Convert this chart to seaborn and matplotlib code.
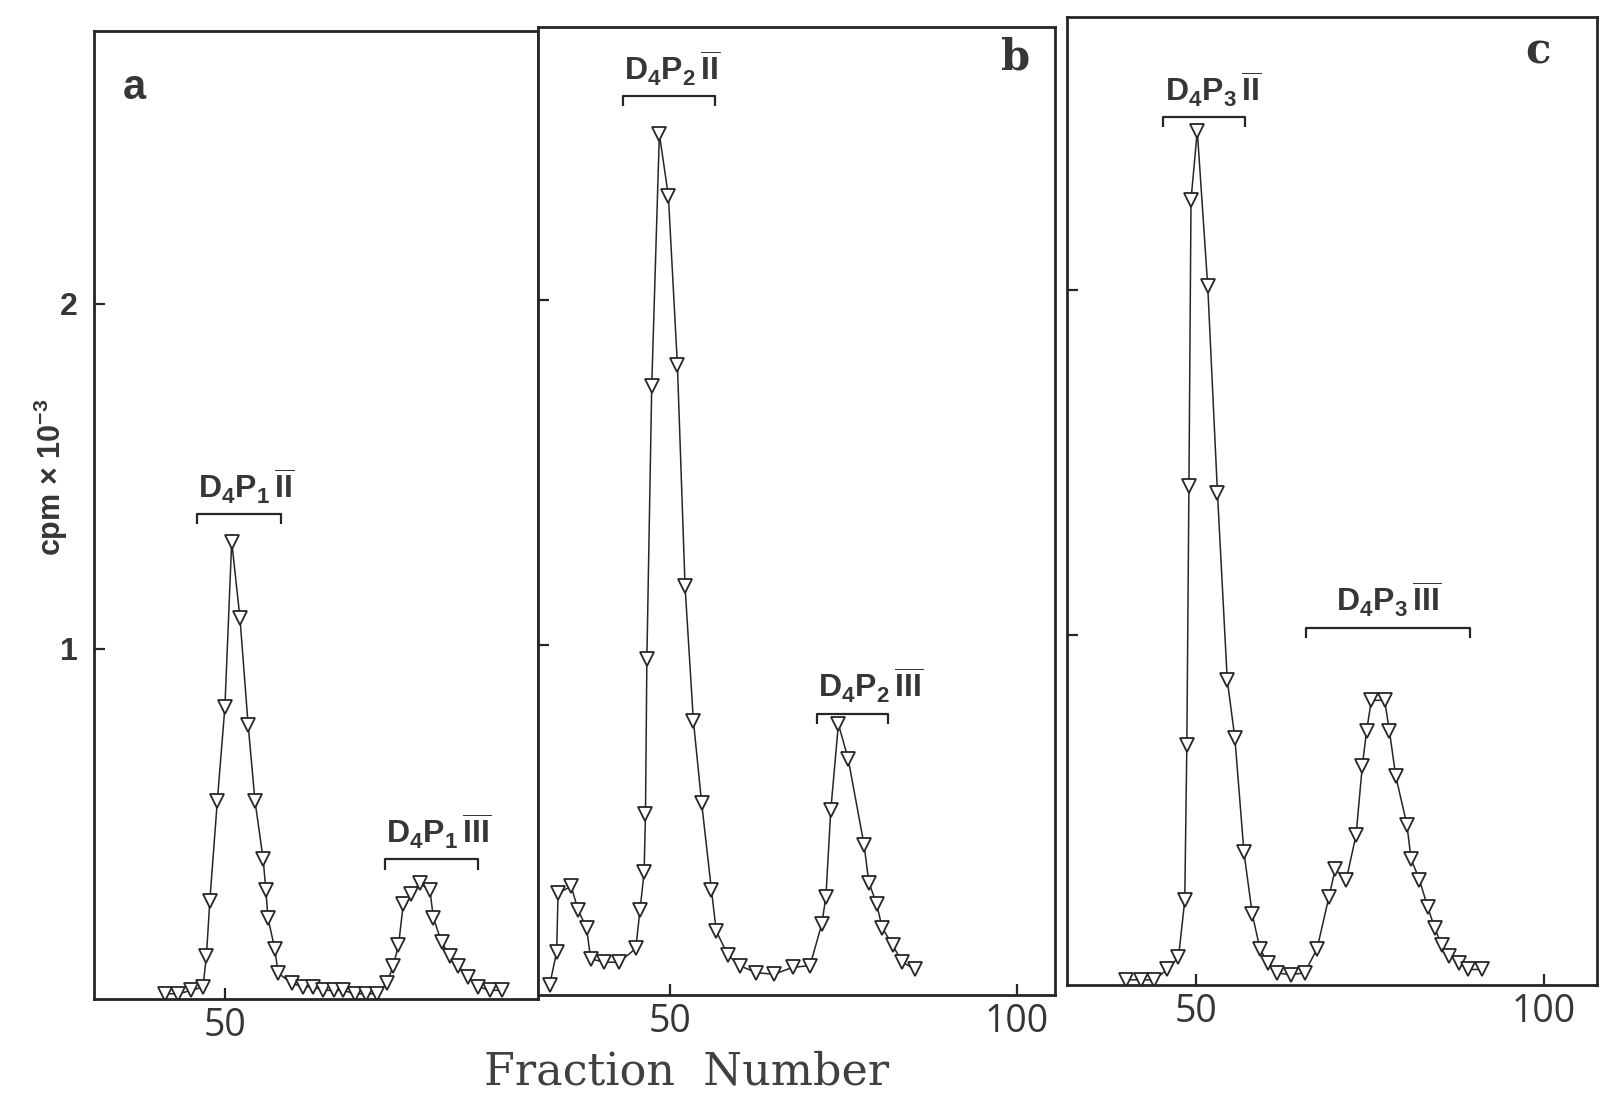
import matplotlib
matplotlib.use("Agg")
import matplotlib.pyplot as plt
import seaborn as sns


# Fraction numbers and counts (cpm x 10^-3)
frac_a = [41.2, 43.2, 45.1, 46.8, 47.3, 47.8, 48.9, 50.0, 51.0, 52.2,
          53.4, 54.4, 55.6, 56.0, 56.3, 57.3, 57.8, 59.8, 61.5, 62.9,
          64.4, 65.9, 67.3, 69.0, 70.7, 72.2, 73.7, 74.6, 75.4, 76.1,
          77.3, 78.5, 80.0, 80.5, 81.7, 82.9, 84.1, 85.6, 87.1, 88.8, 90.5]
cpm_a = [0.00, 0.00, 0.01, 0.02, 0.11, 0.27, 0.56, 0.83, 1.31, 1.09,
         0.78, 0.56, 0.39, 0.30, 0.22, 0.13, 0.06, 0.03, 0.02, 0.02,
         0.01, 0.01, 0.01, 0.00, 0.00, 0.00, 0.03, 0.08, 0.14, 0.26,
         0.29, 0.32, 0.30, 0.22, 0.15, 0.11, 0.08, 0.05, 0.02, 0.01, 0.01]

frac_b = [32.7, 33.7, 33.9, 35.8, 36.8, 38.0, 38.6, 40.5, 42.7, 45.1,
          45.7, 46.3, 46.5, 46.7, 47.4, 48.5, 49.8, 51.1, 52.2, 53.4,
          54.6, 56.0, 56.7, 58.4, 60.1, 62.4, 65.0, 67.7, 70.2, 71.9,
          72.5, 73.2, 74.3, 75.7, 78.0, 78.7, 79.8, 80.6, 82.1, 83.5, 85.3]
cpm_b = [0.015, 0.11, 0.28, 0.30, 0.23, 0.18, 0.09, 0.08, 0.08, 0.12,
         0.23, 0.34, 0.51, 0.96, 1.75, 2.48, 2.30, 1.81, 1.17, 0.78,
         0.54, 0.29, 0.17, 0.10, 0.07, 0.05, 0.045, 0.065, 0.07, 0.19,
         0.27, 0.52, 0.77, 0.67, 0.42, 0.31, 0.25, 0.18, 0.13, 0.08, 0.06]

frac_c = [40.0, 42.1, 44.0, 45.9, 47.5, 48.4, 48.7, 49.0, 49.3, 50.2,
          51.7, 53.1, 54.5, 55.6, 56.9, 58.1, 59.2, 60.3, 61.6, 63.6,
          65.6, 67.4, 69.1, 70.0, 71.6, 73.0, 73.9, 74.5, 75.2, 77.1,
          77.8, 78.7, 80.3, 80.9, 82.1, 83.3, 84.3, 85.3, 86.4, 87.8,
          89.1, 91.1]
cpm_c = [0.00, 0.00, 0.00, 0.03, 0.065, 0.23, 0.68, 1.43, 2.26, 2.46,
         2.01, 1.41, 0.87, 0.70, 0.37, 0.19, 0.09, 0.05, 0.02, 0.015,
         0.02, 0.09, 0.24, 0.32, 0.29, 0.42, 0.62, 0.72, 0.81, 0.81,
         0.72, 0.59, 0.45, 0.35, 0.29, 0.21, 0.15, 0.10, 0.07, 0.05,
         0.03, 0.03]

# Pooled peaks: name, fraction range and height of the bracket
peaks_a = [r"D$_4$P$_1\,\overline{\mathrm{II}}$", r"D$_4$P$_1\,\overline{\mathrm{III}}$"]
pool_lo_a = [45.9, 73.4]
pool_hi_a = [58.2, 87.0]
pool_y_a = [1.39, 0.39]

peaks_b = [r"D$_4$P$_2\,\overline{\mathrm{II}}$", r"D$_4$P$_2\,\overline{\mathrm{III}}$"]
pool_lo_b = [43.2, 71.2]
pool_hi_b = [56.5, 81.4]
pool_y_b = [2.59, 0.80]

peaks_c = [r"D$_4$P$_3\,\overline{\mathrm{II}}$", r"D$_4$P$_3\,\overline{\mathrm{III}}$"]
pool_lo_c = [45.3, 65.8]
pool_hi_c = [57.0, 89.4]
pool_y_c = [2.50, 1.02]

panel_letters = ["a", "b", "c"]
x_ticks = [[50], [50, 100], [50, 100]]
y_ticks = [1, 2]

INK = "#262626"
TEXT = "#363636"


def style_axes(ax, xlim, xticks, show_ylabels):
    ax.set_xlim(*xlim)
    ax.set_ylim(-0.015, 2.79)
    ax.set_xticks(xticks)
    ax.set_yticks(y_ticks)
    ax.set_xlabel("")
    ax.set_ylabel("")
    for spine in ax.spines.values():
        spine.set_visible(True)
        spine.set_linewidth(2.0)
        spine.set_color(INK)
    ax.tick_params(direction="in", length=8, width=1.6, color=INK)
    ax.tick_params(axis="x", pad=6, labelsize=27, labelcolor=TEXT)
    for lab in ax.get_xticklabels():
        lab.set_family("Open Sans")
    if show_ylabels:
        ax.tick_params(axis="y", pad=12, labelsize=23, labelcolor=TEXT)
        for lab in ax.get_yticklabels():
            lab.set_family("Liberation Sans")
            lab.set_fontweight("bold")
    else:
        ax.tick_params(axis="y", labelleft=False)


def draw_pools(ax, names, lo, hi, ys, align):
    hook = 0.03
    for name, x0, x1, y, ha in zip(names, lo, hi, ys, align):
        ax.plot([x0, x0, x1, x1], [y - hook, y, y, y - hook],
                color=INK, linewidth=1.6, solid_capstyle="butt")
        tx = x0 + 0.2 if ha == "left" else (x0 + x1) / 2
        ax.text(tx, y + 0.045, name, ha=ha, va="baseline",
                fontsize=23, color=TEXT, family="Liberation Sans",
                fontweight="bold")


def main():
    sns.set_style("ticks")
    plt.rcParams["font.family"] = ["DejaVu Sans"]
    plt.rcParams["mathtext.fontset"] = "custom"
    plt.rcParams["mathtext.rm"] = "Liberation Sans:bold"
    plt.rcParams["mathtext.bf"] = "Liberation Sans:bold"
    plt.rcParams["mathtext.it"] = "Liberation Sans:bold:italic"

    fig = plt.figure(figsize=(16.01, 10.98), dpi=100)
    # scan is slightly tilted, so each panel sits a little higher
    ax_a = fig.add_axes([0.0587, 0.0902, 0.2773, 0.8816])
    ax_b = fig.add_axes([0.3360, 0.0938, 0.3229, 0.8816])
    ax_c = fig.add_axes([0.6665, 0.1029, 0.3310, 0.8816])

    panels = [
        (ax_a, frac_a, cpm_a, (30.85, 95.8), peaks_a, pool_lo_a, pool_hi_a, pool_y_a, ["left", "left"]),
        (ax_b, frac_b, cpm_b, (31.0, 105.5), peaks_b, pool_lo_b, pool_hi_b, pool_y_b, ["left", "left"]),
        (ax_c, frac_c, cpm_c, (31.5, 107.6), peaks_c, pool_lo_c, pool_hi_c, pool_y_c, ["left", "center"]),
    ]

    for i, (ax, fr, cpm, xlim, names, lo, hi, ys, align) in enumerate(panels):
        sns.lineplot(x=fr, y=cpm, ax=ax, estimator=None, sort=False,
                     color=INK, linewidth=1.1, marker="v", markersize=10,
                     markerfacecolor="white", markeredgecolor=INK,
                     markeredgewidth=1.3)
        draw_pools(ax, names, lo, hi, ys, align)
        style_axes(ax, xlim, x_ticks[i], show_ylabels=(i == 0))

    letter_pos = [(0.092, 0.941), (0.923, 0.968), (0.889, 0.964)]
    letter_family = ["Liberation Sans", "DejaVu Serif", "DejaVu Serif"]
    for ax, letter, (lx, ly), fam in zip([ax_a, ax_b, ax_c], panel_letters,
                                         letter_pos, letter_family):
        ax.text(lx, ly, letter, transform=ax.transAxes, ha="center",
                va="center", fontsize=30, fontweight="bold", color=TEXT,
                family=fam)

    fig.text(0.032, 0.565, r"cpm × 10$^{-3}$", rotation=90, ha="center",
             va="center", fontsize=22, fontweight="bold", color=TEXT,
             family="Liberation Sans")
    fig.text(0.429, 0.024, "Fraction  Number", ha="center", va="center",
             fontsize=32, color="#404040", family="DejaVu Serif")

    fig.savefig("out.png", dpi=100, facecolor="white")


if __name__ == "__main__":
    main()
